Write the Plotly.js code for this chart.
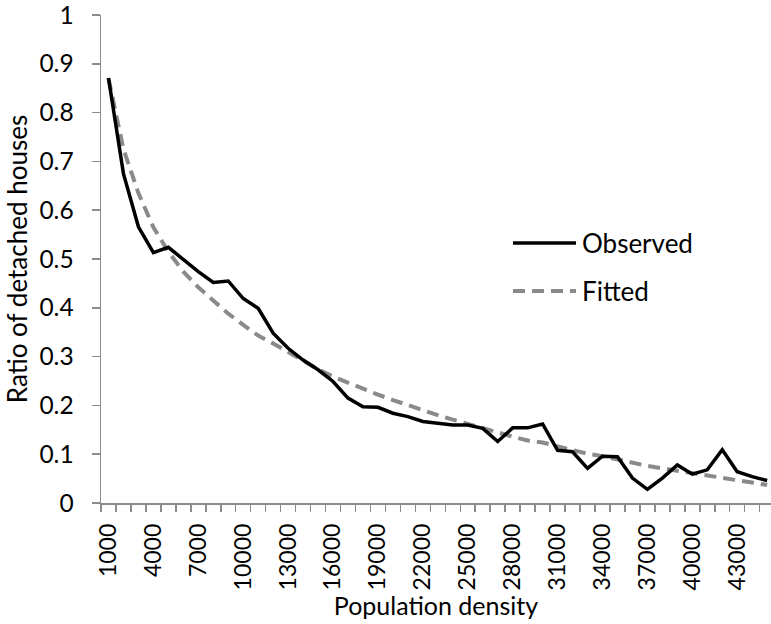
<!DOCTYPE html>
<html>
<head>
<meta charset="utf-8">
<script src="https://cdn.plot.ly/plotly-3.0.1.min.js"></script>
<style>html,body{margin:0;padding:0;background:#fff;}#chart{width:771px;height:624px;}</style>
</head>
<body>
<div id="chart"></div>
<script>
const density = [1000,2000,3000,4000,5000,6000,7000,8000,9000,10000,
  11000,12000,13000,14000,15000,16000,17000,18000,19000,20000,
  21000,22000,23000,24000,25000,26000,27000,28000,29000,30000,
  31000,32000,33000,34000,35000,36000,37000,38000,39000,40000,
  41000,42000,43000,44000,45000];
const observed = [0.871,0.675,0.566,0.513,0.524,0.498,0.474,0.452,0.455,0.419,
  0.399,0.348,0.317,0.293,0.273,0.249,0.215,0.197,0.196,0.184,
  0.177,0.167,0.163,0.160,0.160,0.153,0.126,0.154,0.154,0.162,
  0.108,0.105,0.071,0.096,0.095,0.051,0.028,0.051,0.078,0.059,
  0.068,0.109,0.064,0.054,0.046];
const fitted = [0.870,0.725,0.635,0.565,0.515,0.474,0.442,0.415,0.388,0.365,
  0.343,0.327,0.309,0.291,0.274,0.259,0.246,0.234,0.222,0.211,
  0.200,0.189,0.180,0.171,0.162,0.152,0.143,0.136,0.128,0.124,
  0.116,0.108,0.101,0.096,0.089,0.082,0.076,0.071,0.066,0.061,
  0.056,0.051,0.046,0.041,0.037];
const xTickVals = [1000,4000,7000,10000,13000,16000,19000,22000,25000,28000,31000,34000,37000,40000,43000];
const xTickText = ["1000","4000","7000","10000","13000","16000","19000","22000","25000","28000","31000","34000","37000","40000","43000"];
const yTickVals = [0,0.1,0.2,0.3,0.4,0.5,0.6,0.7,0.8,0.9,1];
const yTickText = ["0","0.1","0.2","0.3","0.4","0.5","0.6","0.7","0.8","0.9","1"];
const seriesNames = ["Observed","Fitted"];

const FONT = "Lato, 'Open Sans', sans-serif";
const AXIS = "#8c8c8c";
const FIT_COLOR = "#8a8a8a";

const traces = [
  {x: density, y: fitted, name: seriesNames[1], type: "scatter", mode: "lines",
   line: {color: FIT_COLOR, width: 4, dash: "12px,7px"}, showlegend: false},
  {x: density, y: observed, name: seriesNames[0], type: "scatter", mode: "lines",
   line: {color: "#000000", width: 3.5}, showlegend: false}
];

const layout = {
  width: 771, height: 624,
  margin: {l: 101, r: 0, t: 15, b: 121},
  paper_bgcolor: "#ffffff", plot_bgcolor: "#ffffff",
  font: {family: FONT, size: 24, color: "#000000"},
  xaxis: {
    range: [500, 45257], showgrid: false, zeroline: false,
    showline: true, linecolor: AXIS, linewidth: 1.5,
    tickmode: "array", tickvals: xTickVals, ticktext: xTickText,
    tickangle: -90, ticks: "", ticklabelstandoff: 10,
    tickfont: {family: FONT, size: 23, color: "#000"},
    minor: {tick0: 500, dtick: 1000, ticks: "outside", ticklen: 7, tickcolor: AXIS, tickwidth: 1.5, showgrid: false},
    title: {text: "Population density", font: {family: FONT, size: 25, color: "#000"}, standoff: 0}
  },
  yaxis: {
    range: [0, 1], showgrid: false, zeroline: false,
    showline: true, linecolor: AXIS, linewidth: 1.5,
    tickmode: "array", tickvals: yTickVals, ticktext: yTickText,
    ticks: "outside", ticklen: 8, tickcolor: AXIS, tickwidth: 1.5,
    ticklabelstandoff: 13, ticklabeloverflow: "allow",
    tickfont: {family: FONT, size: 24.5, color: "#000"},
    title: {text: "Ratio of detached houses", font: {family: FONT, size: 26, color: "#000"}, standoff: 4}
  },
  shapes: [
    {type: "line", xref: "paper", yref: "paper", x0: (513-101)/670, x1: (576-101)/670, y0: (503-243)/488, y1: (503-243)/488,
     line: {color: "#000", width: 3.5}},
    {type: "line", xref: "paper", yref: "paper", x0: (513-101)/670, x1: (576-101)/670, y0: (503-291)/488, y1: (503-291)/488,
     line: {color: FIT_COLOR, width: 4, dash: "12px,7px"}}
  ],
  annotations: [
    {xref: "paper", yref: "paper", x: (580-101)/670, y: (503-243)/488, xanchor: "left", yanchor: "middle",
     text: seriesNames[0], showarrow: false, font: {family: FONT, size: 26, color: "#000"}},
    {xref: "paper", yref: "paper", x: (580-101)/670, y: (503-291)/488, xanchor: "left", yanchor: "middle",
     text: seriesNames[1], showarrow: false, font: {family: FONT, size: 26, color: "#000"}}
  ]
};

Plotly.newPlot("chart", traces, layout, {displayModeBar: false, staticPlot: true});
</script>
</body>
</html>
